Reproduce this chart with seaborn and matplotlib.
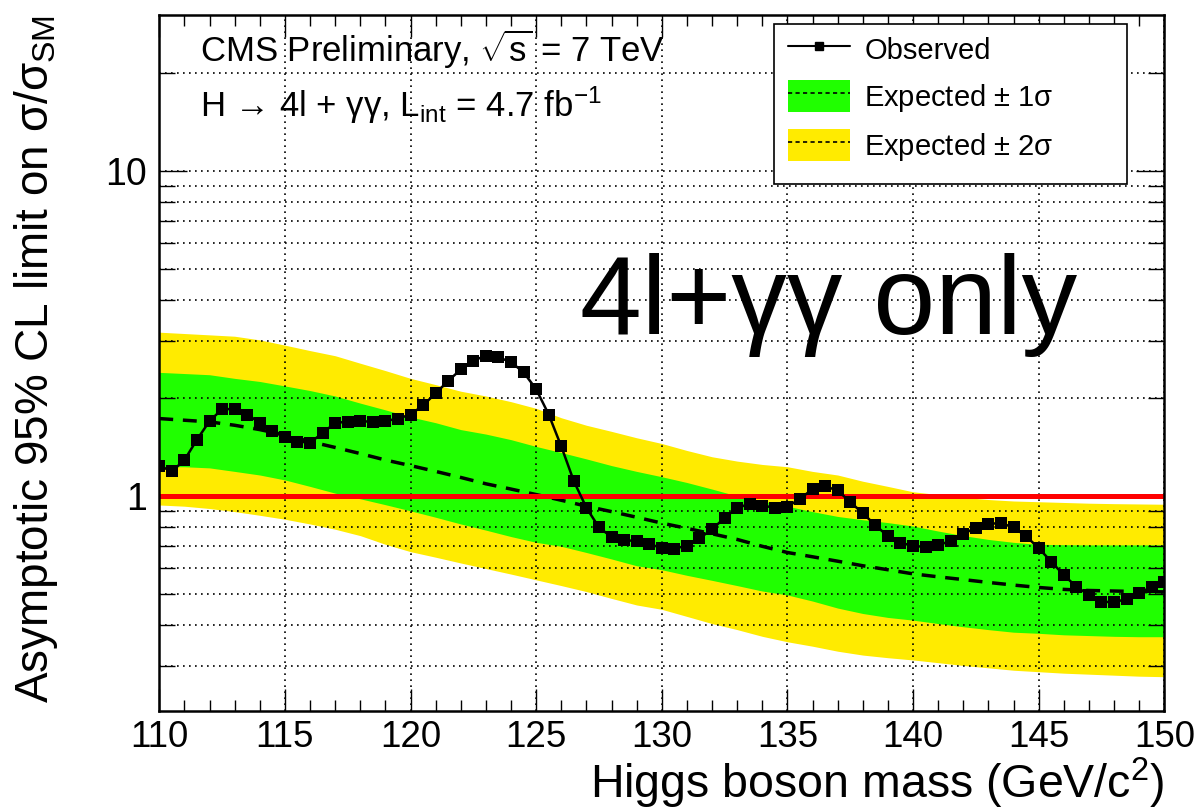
import numpy as np
import pandas as pd
import matplotlib
matplotlib.use("Agg")
import matplotlib.pyplot as plt
import seaborn as sns
from matplotlib.lines import Line2D
from matplotlib.patches import Patch, Rectangle
from matplotlib.ticker import MultipleLocator, NullFormatter

# ---------------------------------------------------------------- data
# observed limit, scanned every 0.5 GeV
masses_obs = np.arange(110.0, 150.01, 0.5)
observed = [
    1.24, 1.19, 1.29, 1.49, 1.70, 1.85, 1.85, 1.78, 1.68, 1.58,
    1.52, 1.47, 1.46, 1.56, 1.68, 1.69, 1.70, 1.69, 1.70, 1.73,
    1.78, 1.90, 2.07, 2.26, 2.45, 2.61, 2.70, 2.67, 2.58, 2.40,
    2.13, 1.78, 1.42, 1.11, 0.92, 0.80, 0.748, 0.732, 0.726, 0.71,
    0.693, 0.689, 0.703, 0.741, 0.79, 0.856, 0.92, 0.945, 0.934, 0.92,
    0.927, 0.98, 1.05, 1.07, 1.04, 0.958, 0.885, 0.813, 0.752, 0.718,
    0.702, 0.697, 0.707, 0.726, 0.764, 0.799, 0.822, 0.824, 0.801, 0.752,
    0.691, 0.628, 0.571, 0.526, 0.496, 0.473, 0.471, 0.482, 0.502, 0.526,
    0.545,
]

# expected limit and its 1/2 sigma bands, every 1 GeV
masses_exp = np.arange(110, 151, 1)
expected = [
    1.73, 1.71, 1.69, 1.65, 1.60, 1.54, 1.47, 1.41, 1.35, 1.29,
    1.24, 1.19, 1.14, 1.09, 1.05, 1.01, 0.97, 0.93, 0.895, 0.86,
    0.825, 0.795, 0.765, 0.735, 0.70, 0.67, 0.65, 0.63, 0.61, 0.593,
    0.576, 0.564, 0.553, 0.542, 0.532, 0.523, 0.516, 0.512, 0.510, 0.508,
    0.507,
]
exp_plus1 = [
    2.40, 2.38, 2.36, 2.30, 2.25, 2.18, 2.11, 2.03, 1.93, 1.84,
    1.75, 1.68, 1.60, 1.55, 1.49, 1.42, 1.36, 1.30, 1.24, 1.19,
    1.146, 1.10, 1.05, 1.00, 0.965, 0.93, 0.895, 0.865, 0.845, 0.828,
    0.808, 0.78, 0.755, 0.735, 0.72, 0.71, 0.708, 0.707, 0.707, 0.707,
    0.707,
]
exp_minus1 = [
    1.23, 1.23, 1.22, 1.19, 1.16, 1.12, 1.07, 1.02, 0.98, 0.94,
    0.90, 0.86, 0.82, 0.785, 0.75, 0.72, 0.70, 0.67, 0.64, 0.61,
    0.593, 0.57, 0.55, 0.53, 0.51, 0.496, 0.475, 0.452, 0.435, 0.423,
    0.415, 0.405, 0.396, 0.388, 0.381, 0.378, 0.374, 0.372, 0.370, 0.369,
    0.369,
]
exp_plus2 = [
    3.19, 3.16, 3.13, 3.10, 3.02, 2.91, 2.80, 2.70, 2.56, 2.43,
    2.30, 2.20, 2.10, 2.03, 1.95, 1.86, 1.74, 1.65, 1.58, 1.51,
    1.45, 1.38, 1.32, 1.28, 1.25, 1.23, 1.19, 1.16, 1.11, 1.07,
    1.03, 1.01, 0.99, 0.975, 0.965, 0.96, 0.955, 0.95, 0.947, 0.945,
    0.943,
]
exp_minus2 = [
    0.938, 0.93, 0.915, 0.895, 0.872, 0.848, 0.82, 0.79, 0.755, 0.71,
    0.674, 0.648, 0.622, 0.598, 0.575, 0.552, 0.53, 0.508, 0.484, 0.462,
    0.448, 0.426, 0.405, 0.388, 0.37, 0.356, 0.345, 0.333, 0.324, 0.318,
    0.313, 0.307, 0.301, 0.296, 0.291, 0.288, 0.285, 0.283, 0.281, 0.279,
    0.278,
]

x_major_ticks = [110, 115, 120, 125, 130, 135, 140, 145, 150]
y_major_ticks = [1, 10]
y_major_labels = ["1", "10"]
y_minor_ticks = [0.3, 0.4, 0.5, 0.6, 0.7, 0.8, 0.9, 2, 3, 4, 5, 6, 7, 8, 9, 20]

df_obs = pd.DataFrame({"mass": masses_obs, "limit": observed})
df_exp = pd.DataFrame({
    "mass": masses_exp, "median": expected,
    "p1": exp_plus1, "m1": exp_minus1, "p2": exp_plus2, "m2": exp_minus2,
})

# ---------------------------------------------------------------- style
sns.set_style("ticks")
REG = ["Liberation Sans", "DejaVu Sans"]
plt.rcParams.update({
    "font.family": REG,
    "mathtext.fontset": "custom",
    "mathtext.rm": "Liberation Sans",
    "mathtext.it": "Liberation Sans",
    "mathtext.bf": "Liberation Sans:bold",
    "text.color": "black",
    "axes.labelcolor": "black",
    "xtick.color": "black",
    "ytick.color": "black",
})

GREEN = "#20ff00"
YELLOW = "#ffeb00"

W, H = 1203, 811
fig = plt.figure(figsize=(W / 100, H / 100), dpi=100)
fig.patch.set_facecolor("white")

ax_l, ax_r, ax_t, ax_b = 159.3, 1164.3, 15.3, 710.7
ax = fig.add_axes([ax_l / W, 1 - ax_b / H, (ax_r - ax_l) / W, (ax_b - ax_t) / H])
ax.set_facecolor("white")

# bands
ax.fill_between(df_exp["mass"], df_exp["m2"], df_exp["p2"], color=YELLOW, lw=0, zorder=1)
ax.fill_between(df_exp["mass"], df_exp["m1"], df_exp["p1"], color=GREEN, lw=0, zorder=1.1)

# expected median
sns.lineplot(data=df_exp, x="mass", y="median", ax=ax, color="black",
             lw=2.5, linestyle=(0, (4.0, 2.8)), zorder=2, legend=False)

# SM reference
ax.axhline(1.0, color="#ff0000", lw=3.6, zorder=3)

# observed
sns.lineplot(data=df_obs, x="mass", y="limit", ax=ax, color="black",
             lw=1.8, marker="s", markersize=9.3, markeredgecolor="black",
             markeredgewidth=0, zorder=4, legend=False)

# ---------------------------------------------------------------- axes
ax.set_yscale("log")
ax.set_xlim(110, 150)
ax.set_ylim(0.2185, 30.1)

ax.set_xticks(x_major_ticks)
ax.xaxis.set_minor_locator(MultipleLocator(1))
ax.set_yticks(y_major_ticks, labels=y_major_labels)
ax.set_yticks(y_minor_ticks, minor=True)
ax.yaxis.set_minor_formatter(NullFormatter())

ax.tick_params(axis="both", which="both", direction="in", top=True, right=True,
               color="black", width=1.0)
ax.tick_params(axis="x", which="major", length=15.8, pad=7, labelsize=26.5)
ax.tick_params(axis="x", which="minor", length=7.9)
ax.tick_params(axis="y", which="major", length=20, pad=9, labelsize=27)
ax.tick_params(axis="y", which="minor", length=11.5)

ax.set_axisbelow("line")
grid_kw = dict(color="black", lw=1.2, linestyle=(0, (1, 2.6)))
ax.grid(True, axis="x", which="major", **grid_kw)
ax.grid(True, axis="y", which="both", **grid_kw)

for s in ax.spines.values():
    s.set_visible(True)
    s.set_color("black")
    s.set_linewidth(1.8)
    s.set_zorder(6)

ax.set_xlabel(r"Higgs boson mass (GeV/c$^{2}$)", fontsize=33.5, loc="right")
ax.xaxis.set_label_coords(1.0, -(756 - ax_b) / (ax_b - ax_t))
ax.xaxis.label.set_va("top")
ax.set_ylabel(r"Asymptotic 95% CL limit on $\sigma/\sigma_{\mathrm{SM}}$",
              fontsize=33, loc="top")
ax.yaxis.set_label_coords(-(ax_l - 60) / (ax_r - ax_l), 1.0)

# ---------------------------------------------------------------- annotations
def ax_xy(px, py):
    return ((px - ax_l) / (ax_r - ax_l), (ax_b - py) / (ax_b - ax_t))

ax.text(*ax_xy(200, 62), r"CMS Preliminary, $\sqrt{\mathrm{s}}$ = 7 TeV",
        transform=ax.transAxes, fontsize=25,
        ha="left", va="baseline", zorder=7)
ax.text(*ax_xy(200, 117),
        "H \u2192 4l + \u03b3\u03b3, L$_{\\mathrm{int}}$ = 4.7 fb$^{\\mathrm{-1}}$",
        transform=ax.transAxes, fontsize=25,
        ha="left", va="baseline", zorder=7)
ax.text(*ax_xy(580, 334), "4l+\u03b3\u03b3 only", transform=ax.transAxes,
        fontsize=80, ha="left", va="baseline", zorder=7)

# legend box
box = Rectangle((774 / W, 1 - 184 / H), (1127 - 774) / W, (184 - 24) / H,
                transform=fig.transFigure, facecolor="white", edgecolor="black",
                lw=1.2, zorder=4.5, clip_on=False)
ax.add_patch(box)

h_obs = Line2D([], [], color="black", lw=1.5, marker="s", markersize=6)
h_dash = Line2D([], [], color="black", lw=1.2, linestyle=(0, (2.5, 2)))
handles = [h_obs,
           (Patch(facecolor=GREEN, edgecolor="none"), h_dash),
           (Patch(facecolor=YELLOW, edgecolor="none"), h_dash)]
labels = ["Observed", r"Expected $\pm$ 1$\sigma$", r"Expected $\pm$ 2$\sigma$"]
leg = ax.legend(handles, labels, loc="upper left",
                bbox_to_anchor=(788 / W, 1 - 33 / H),
                bbox_transform=fig.transFigure, frameon=False, borderpad=0,
                fontsize=21, handlelength=2.14, handleheight=1.31,
                labelspacing=0.52, handletextpad=0.48, borderaxespad=0)
leg.set_zorder(5)

fig.savefig("out.png", dpi=100, facecolor="white")
